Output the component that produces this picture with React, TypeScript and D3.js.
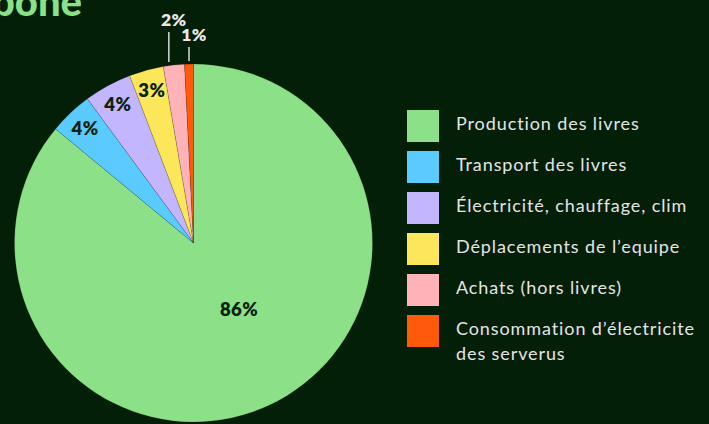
import React from "react";
import * as d3 from "d3";

const categories = [
  "Production des livres",
  "Transport des livres",
  "Électricité, chauffage, clim",
  "Déplacements de l’equipe",
  "Achats (hors livres)",
  "Consommation d’électricite des serverus",
];
const values = [86.0, 3.9, 4.3, 3.1, 1.9, 0.8];
const valueLabels = ["86%", "4%", "4%", "3%", "2%", "1%"];
const colors = ["#8ce087", "#5bcbff", "#c4b5ff", "#fce65a", "#ffb3b8", "#ff5a0a"];
const legendLines = [
  ["Production des livres"],
  ["Transport des livres"],
  ["Électricité, chauffage, clim"],
  ["Déplacements de l’equipe"],
  ["Achats (hors livres)"],
  ["Consommation d’électricite", "des serverus"],
];
const outsideLabel = [false, false, false, false, true, true];
const titleText = "Empreinte carbone";

const W = 709;
const H = 424;
const BG = "#041f08";
const CX = 193.5;
const CY = 243;
const R = 179;
const FONT = "Lato, 'Noto Sans', sans-serif";

export default function App() {
  const data = categories.map((c, i) => ({ c, v: values[i], i }));
  const pie = d3
    .pie<any>()
    .sort(null)
    .value((d) => d.v)
    .startAngle(0)
    .endAngle(2 * Math.PI);
  const arcs = pie(data);
  const arc = d3.arc<any>().innerRadius(0).outerRadius(R);
  const labelArc = d3.arc<any>().innerRadius(R * 0.765).outerRadius(R * 1.0);
  const bigArc = d3.arc<any>().innerRadius(0).outerRadius(R * 0.9);

  const legendY = d3
    .scaleBand<number>()
    .domain(d3.range(categories.length))
    .range([110, 110 + 41 * categories.length])
    .paddingInner(0);

  const outsideLens = [30, 14];
  const outsideDx = [0, 5];
  let outsideCount = 0;

  return (
    <svg
      width={W}
      height={H}
      style={{ position: "absolute", left: 0, top: 0, background: BG, display: "block" }}
    >
      <rect x={0} y={0} width={W} height={H} fill={BG} />
      <text
        x={82}
        y={16}
        textAnchor="end"
        fill="#8ce087"
        fontFamily={FONT}
        fontWeight={900}
        fontSize={40}
      >
        {titleText}
      </text>
      <g transform={`translate(${CX},${CY})`}>
        {arcs.map((a, i) => (
          <path
            key={i}
            d={arc(a) as string}
            fill={colors[i]}
            stroke="rgba(0,0,0,0.25)"
            strokeWidth={0.5}
          />
        ))}
        {arcs.map((a, i) => {
          const span = a.endAngle - a.startAngle;
          if (outsideLabel[i]) {
            const mid = (a.startAngle + a.endAngle) / 2;
            const x = R * Math.sin(mid);
            const y = -R * Math.cos(mid);
            const k = outsideCount++;
            const len = outsideLens[k % outsideLens.length];
            const lx = x + outsideDx[k % outsideDx.length];
            const lineX = lx - 5;
            const y0 = y - 3;
            const y1 = y0 - len;
            return (
              <g key={"l" + i}>
                <line x1={lineX} x2={lineX} y1={y0} y2={y1} stroke="#d8d8d8" strokeWidth={1.5} />
                <text
                  x={lx}
                  y={y1 - 6}
                  textAnchor="middle"
                  fill="#e8e8e8"
                  fontFamily={FONT}
                  fontWeight={800}
                  fontSize={17.5}
                  letterSpacing={0.4}
                >
                  {valueLabels[i]}
                </text>
              </g>
            );
          }
          let pos: [number, number];
          if (span > Math.PI) {
            const ang = a.startAngle + span * 0.47;
            pos = bigArc.centroid({ startAngle: ang, endAngle: ang });
          } else {
            pos = labelArc.centroid(a);
          }
          return (
            <text
              key={"t" + i}
              x={pos[0]}
              y={pos[1]}
              dy="0.35em"
              textAnchor="middle"
              fill="#0b220c"
              fontFamily={FONT}
              fontWeight={800}
              fontSize={18.5}
              letterSpacing={0.5}
            >
              {valueLabels[i]}
            </text>
          );
        })}
      </g>
      <g>
        {categories.map((c, i) => {
          const y = legendY(i) as number;
          return (
            <g key={"lg" + i}>
              <rect x={407} y={y} width={32} height={32} fill={colors[i]} />
              {legendLines[i].map((ln, j) => (
                <text
                  key={j}
                  x={456}
                  y={y + 20 + j * 25}
                  fill="#e4e4e4"
                  fontFamily={FONT}
                  fontSize={18}
                  letterSpacing={0.9}
                >
                  {ln}
                </text>
              ))}
            </g>
          );
        })}
      </g>
    </svg>
  );
}
